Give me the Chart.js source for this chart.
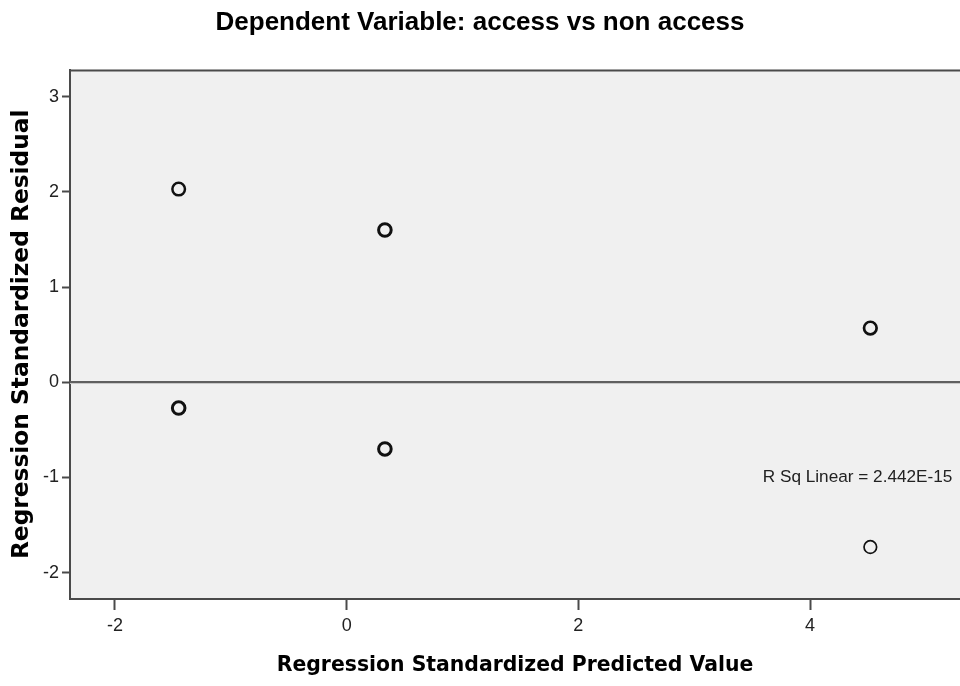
<!DOCTYPE html>
<html>
<head>
<meta charset="utf-8">
<script src="https://cdn.jsdelivr.net/npm/chart.js@4.4.1/dist/chart.umd.min.js"></script>
<style>
  html, body { margin: 0; padding: 0; background: #ffffff; }
  #wrap { width: 960px; height: 686px; position: relative; }
</style>
</head>
<body>
<div id="wrap"><canvas id="c" width="960" height="686"></canvas></div>
<script>
// ---- data ----
const chartTitle = "Dependent Variable: access vs non access";
const xTitle = "Regression Standardized Predicted Value";
const yTitle = "Regression Standardized Residual";
const predicted = [-1.45, 0.33, -1.45, 0.33, 4.52, 4.52];
const residuals = [2.03, 1.60, -0.27, -0.70, 0.57, -1.73];
const markerWeights = [2.5, 3, 3, 3, 2.7, 1.7];
const xRange = [-2.388, 5.294];
const yRange = [-2.276, 3.285];
const xStep = 2;
const yStep = 1;
const referenceY = [0];
const fitLabel = "R Sq Linear = 2.442E-15";
const fitLabelAt = [4.41, -1.0];

const points = predicted.map((x, i) => ({ x: x, y: residuals[i] }));

const AXIS = '#4a4a4a';

const plotDecor = {
  id: 'plotDecor',
  beforeDraw(chart) {
    const { ctx, chartArea: a } = chart;
    ctx.save();
    ctx.fillStyle = '#f0f0f0';
    ctx.fillRect(a.left, a.top, a.right - a.left, a.bottom - a.top);
    ctx.restore();
  },
  beforeDatasetsDraw(chart) {
    const { ctx, chartArea: a, scales } = chart;
    ctx.save();
    // top frame line
    ctx.strokeStyle = AXIS;
    ctx.lineWidth = 2;
    ctx.beginPath();
    ctx.moveTo(a.left, a.top + 1);
    ctx.lineTo(a.right, a.top + 1);
    ctx.stroke();
    // reference line(s)
    referenceY.forEach(v => {
      const py = scales.y.getPixelForValue(v);
      ctx.strokeStyle = '#c8c8c8';
      ctx.lineWidth = 1;
      ctx.beginPath();
      ctx.moveTo(a.left, Math.round(py) + 1.5);
      ctx.lineTo(a.right, Math.round(py) + 1.5);
      ctx.stroke();
      ctx.strokeStyle = '#606060';
      ctx.lineWidth = 2;
      ctx.beginPath();
      ctx.moveTo(a.left, Math.round(py));
      ctx.lineTo(a.right, Math.round(py));
      ctx.stroke();
    });
    // fit label
    ctx.fillStyle = '#222222';
    ctx.font = '17.2px "Liberation Sans", Arial, sans-serif';
    ctx.textAlign = 'center';
    ctx.textBaseline = 'middle';
    ctx.fillText(fitLabel, scales.x.getPixelForValue(fitLabelAt[0]), scales.y.getPixelForValue(fitLabelAt[1]));
    ctx.restore();
  }
};

new Chart(document.getElementById('c'), {
  type: 'scatter',
  data: {
    datasets: [{
      data: points,
      pointStyle: 'circle',
      pointRadius: 6.3,
      pointHoverRadius: 6.3,
      pointBackgroundColor: 'rgba(0,0,0,0)',
      pointBorderColor: '#111111',
      pointBorderWidth: markerWeights
    }]
  },
  options: {
    responsive: false,
    animation: false,
    devicePixelRatio: 1,
    layout: { padding: 0, autoPadding: false },
    plugins: {
      legend: { display: false },
      tooltip: { enabled: false },
      title: {
        display: true,
        text: chartTitle,
        color: '#000000',
        font: { family: '"Liberation Sans", Arial, sans-serif', size: 26, weight: 'bold', lineHeight: 1.2 },
        padding: { top: 7.4, bottom: 31 }
      }
    },
    scales: {
      x: {
        type: 'linear',
        min: xRange[0],
        max: xRange[1],
        afterFit: s => { s.height = 87; s.paddingLeft = 0; s.paddingRight = 0; },
        ticks: { stepSize: xStep, includeBounds: false, color: '#222', padding: 5,
                 font: { family: '"Liberation Sans", Arial, sans-serif', size: 18 } },
        grid: { drawOnChartArea: false, drawTicks: true, tickLength: 11, tickColor: AXIS, tickWidth: 2 },
        border: { display: true, color: AXIS, width: 2 },
        title: { display: true, text: xTitle, color: '#000',
                 font: { family: '"DejaVu Sans", sans-serif', size: 20.4, weight: 'bold', lineHeight: 1.2 },
                 padding: { top: 0, bottom: 8.5 } }
      },
      y: {
        type: 'linear',
        min: yRange[0],
        max: yRange[1],
        afterFit: s => { s.width = 70; s.paddingTop = 0; s.paddingBottom = 0; },
        ticks: { stepSize: yStep, includeBounds: false, color: '#222', padding: 3,
                 font: { family: '"Liberation Sans", Arial, sans-serif', size: 18 } },
        grid: { drawOnChartArea: false, drawTicks: true, tickLength: 8, tickColor: AXIS, tickWidth: 2 },
        border: { display: true, color: AXIS, width: 2 },
        title: { display: true, text: yTitle, color: '#000',
                 font: { family: '"DejaVu Sans", sans-serif', size: 23.3, weight: 'bold', lineHeight: 1.2 },
                 padding: { top: 8.2, bottom: 0 } }
      }
    }
  },
  plugins: [plotDecor]
});
</script>
</body>
</html>
